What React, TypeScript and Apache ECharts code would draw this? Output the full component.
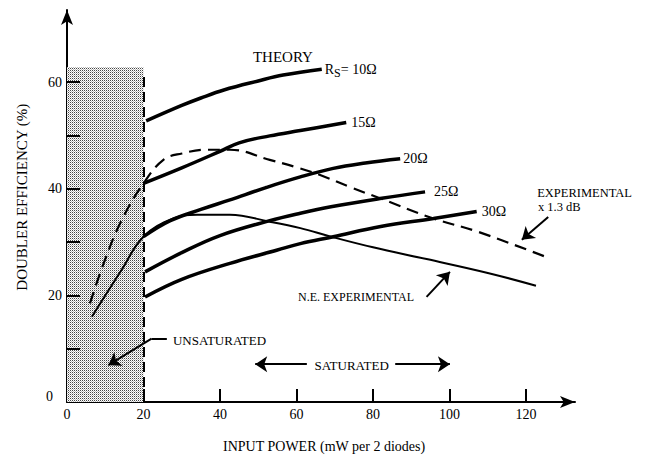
import { useEffect, useRef } from 'react';
import * as echarts from 'echarts';

const FONT = '"Liberation Serif", "DejaVu Serif", serif';

// axis ticks / labels
const xTickLabels = [0, 20, 40, 60, 80, 100, 120];
const xTickMarks = [20, 40, 60, 80, 100, 120];
const yTickLabels = [0, 20, 40, 60];
const yTickMarks = [10, 20, 30, 40, 50, 60];

// THEORY curves (input power mW, efficiency %)
const powerR10 = [20.7, 30, 35, 41, 50, 56.5, 66.6];
const effR10 = [52.7, 55.6, 57.0, 58.5, 60.2, 61.3, 62.4];

const powerR15 = [20, 30, 40, 45, 53, 61, 73];
const effR15 = [41, 43.9, 47, 48.6, 49.9, 50.9, 52.4];

const powerR20 = [20, 27, 35, 42.6, 52, 61, 69.6, 78, 87.1];
const effR20 = [31, 34, 36.1, 37.9, 40.2, 42.2, 43.8, 44.8, 45.6];

const powerR25 = [20.4, 30, 40, 53, 61, 69, 82.3, 93.6];
const effR25 = [24.4, 28, 31.2, 34, 35.4, 36.6, 38.2, 39.4];

const powerR30 = [20.4, 30, 42.6, 55, 61, 69.6, 82, 95.8, 107.1];
const effR30 = [19.7, 23, 26, 28.5, 29.7, 31.0, 32.9, 34.4, 35.7];

// EXPERIMENTAL x 1.3 dB (dashed)
const powerExp = [6, 9.9, 14.3, 20, 25.2, 30, 36.5, 42.6, 53, 60, 66, 74, 81.8, 95.8, 107.5, 126.3];
const effExp = [18.5, 26.6, 34.1, 41, 45.4, 46.6, 47.3, 47.3, 45.4, 44, 42.6, 40.3, 38.2, 34.4, 31.9, 26.9];

// N.E. EXPERIMENTAL (thin solid)
const powerNE = [6.5, 14.3, 20, 27.8, 34, 42.6, 53, 61, 69, 80, 94, 110, 122.6];
const effNE = [16, 24.8, 31, 34.4, 35.1, 35.1, 33.8, 32.6, 31, 29, 26.8, 24.2, 21.8];

const zip = (xs: number[], ys: number[]) => xs.map((x, i) => [x, ys[i]]);

export default function App() {
  const ref = useRef<HTMLDivElement>(null);

  useEffect(() => {
    const el = ref.current!;
    const chart = echarts.init(el, null, { renderer: 'svg' });

    // stipple pattern
    const c = document.createElement('canvas');
    c.width = 2;
    c.height = 2;
    const g = c.getContext('2d')!;
    g.fillStyle = '#ffffff';
    g.fillRect(0, 0, 2, 2);
    g.fillStyle = '#444444';
    g.fillRect(0, 0, 1, 1);
    g.fillStyle = '#b8b8b8';
    g.fillRect(1, 1, 1, 1);
    const patternUrl = c.toDataURL();

    const theory = (
      name: string,
      xs: number[],
      ys: number[],
      label: string,
      distance: number,
      rich?: any
    ) => ({
      name,
      type: 'line',
      data: zip(xs, ys),
      smooth: 0.4,
      symbol: 'none',
      lineStyle: { color: '#000', width: 3.5 },
      endLabel: {
        show: true,
        formatter: label,
        distance,
        color: '#000',
        fontSize: 14,
        fontFamily: FONT,
        rich,
      },
      z: 3,
    });

    const arrowLine = (a: number[], b: number[], arrow = true) => [
      { coord: a, symbol: 'none' },
      { coord: b, symbol: arrow ? 'arrow' : 'none' },
    ];

    // axis tick marks drawn inward (lengths in data units ≈ 13 px)
    const X_TICK_LEN = 2.44;
    const Y_TICK_LEN = 3.4;
    const tickLines = [
      ...xTickMarks.map((v) => [
        { coord: [v, 0], symbol: 'none' },
        { coord: [v, X_TICK_LEN], symbol: 'none' },
      ]),
      ...yTickMarks.map((v) => [
        { coord: [0, v], symbol: 'none' },
        { coord: [Y_TICK_LEN, v], symbol: 'none' },
      ]),
    ];

    const option: any = {
      animation: false,
      backgroundColor: '#fff',
      textStyle: { fontFamily: FONT, color: '#000' },
      grid: { left: 67, right: 71, top: 10, bottom: 56, containLabel: false, outerBoundsMode: 'none' },
      xAxis: {
        type: 'value',
        min: 0,
        max: 132.8,
        interval: 20,
        splitLine: { show: false },
        axisLine: {
          show: true,
          onZero: false,
          lineStyle: { color: '#000', width: 2 },
          symbol: ['none', 'arrow'],
          symbolSize: [9, 15],
        },
        axisTick: { show: false },
        axisLabel: {
          customValues: xTickLabels,
          margin: 5,
          fontSize: 14,
          color: '#000',
          fontFamily: FONT,
        },
      },
      yAxis: {
        type: 'value',
        min: 0,
        max: 73.5,
        interval: 10,
        splitLine: { show: false },
        axisLine: {
          show: true,
          onZero: false,
          lineStyle: { color: '#000', width: 2 },
          symbol: ['none', 'arrow'],
          symbolSize: [9, 15],
        },
        axisTick: { show: false },
        axisLabel: {
          customValues: yTickLabels,
          margin: 5,
          fontSize: 14,
          color: '#000',
          fontFamily: FONT,
          formatter: (v: number) => (v === 0 ? '{z|0}' : String(v)),
          rich: {
            z: { fontSize: 14, fontFamily: FONT, color: '#000', padding: [0, 9, 12, 0] },
          },
        },
      },
      series: [
        {
          name: 'N.E. EXPERIMENTAL',
          type: 'line',
          data: zip(powerNE, effNE),
          smooth: 0.4,
          symbol: 'none',
          lineStyle: { color: '#000', width: 2 },
          z: 3,
          markArea: {
            silent: true,
            itemStyle: {
              color: { image: patternUrl, repeat: 'repeat' },
              borderWidth: 0,
            },
            data: [[{ coord: [0, 0] }, { coord: [20, 62.8] }]],
            z: 1,
          },
          markLine: {
            silent: true,
            symbol: ['none', 'arrow'],
            symbolSize: 12,
            label: { show: false },
            lineStyle: { color: '#000', width: 2, type: 'solid' },
            data: [
              [
                { coord: [20, 0], symbol: 'none', lineStyle: { type: [10, 5], width: 2, color: '#000' } },
                { coord: [20, 61.3], symbol: 'none' },
              ],
              ...tickLines,
              arrowLine([62.7, 7.1], [49.2, 7.1]),
              arrowLine([85.8, 7.1], [100.1, 7.1]),
              arrowLine([26.1, 11.9], [22.1, 11.9], false),
              arrowLine([22.1, 11.9], [10.8, 6.9]),
              arrowLine([125.8, 34.7], [118.9, 30.4]),
              arrowLine([94, 19.7], [100.1, 24.4]),
            ],
          },
        },
        {
          name: 'EXPERIMENTAL x 1.3 dB',
          type: 'line',
          data: zip(powerExp, effExp),
          smooth: 0.4,
          symbol: 'none',
          lineStyle: { color: '#000', width: 2.2, type: [12, 7] },
          z: 3,
        },
        theory('10', powerR10, effR10, '{r|R}{s|S}{r|= 10Ω}', 3, {
          r: { fontSize: 14, fontFamily: FONT, color: '#000' },
          s: { fontSize: 12, fontFamily: FONT, color: '#000', padding: [8, 0, 0, 0] },
        }),
        theory('15', powerR15, effR15, '15Ω', 5),
        theory('20', powerR20, effR20, '20Ω', 3),
        theory('25', powerR25, effR25, '25Ω', 9),
        theory('30', powerR30, effR30, '30Ω', 5),
      ],
    };

    chart.setOption(option);

    const p = (x: number, y: number) => chart.convertToPixel({ gridIndex: 0 }, [x, y]) as number[];
    const txt = (x: number, y: number, text: string, size: number, align = 'left', extra: any = {}) => {
      const [px, py] = p(x, y);
      return {
        type: 'text',
        x: px,
        y: py,
        silent: true,
        z: 10,
        ...extra,
        style: {
          text,
          fontSize: size,
          fontFamily: FONT,
          fill: '#000',
          align,
          verticalAlign: 'middle',
          textAlign: align,
          textVerticalAlign: 'middle',
        },
      };
    };

    chart.setOption({
      graphic: [
        txt(48.6, 64.7, 'THEORY', 15),
        txt(122.9, 39.2, 'EXPERIMENTAL', 12.5),
        txt(123.1, 36.5, 'x 1.3 dB', 12.5),
        txt(60.4, 19.7, 'N.E. EXPERIMENTAL', 12),
        txt(27.7, 11.6, 'UNSATURATED', 13),
        txt(74.4, 6.9, 'SATURATED', 13, 'center'),
        txt(67.2, -8.25, 'INPUT POWER (mW per 2 diodes)', 14, 'center'),
        txt(-11.8, 38.4, 'DOUBLER EFFICIENCY (%)', 15, 'center', { rotation: Math.PI / 2 }),
      ],
    });

    return () => chart.dispose();
  }, []);

  return (
    <div
      ref={ref}
      style={{ position: 'fixed', left: 0, top: 0, width: 646, height: 458 }}
    />
  );
}
